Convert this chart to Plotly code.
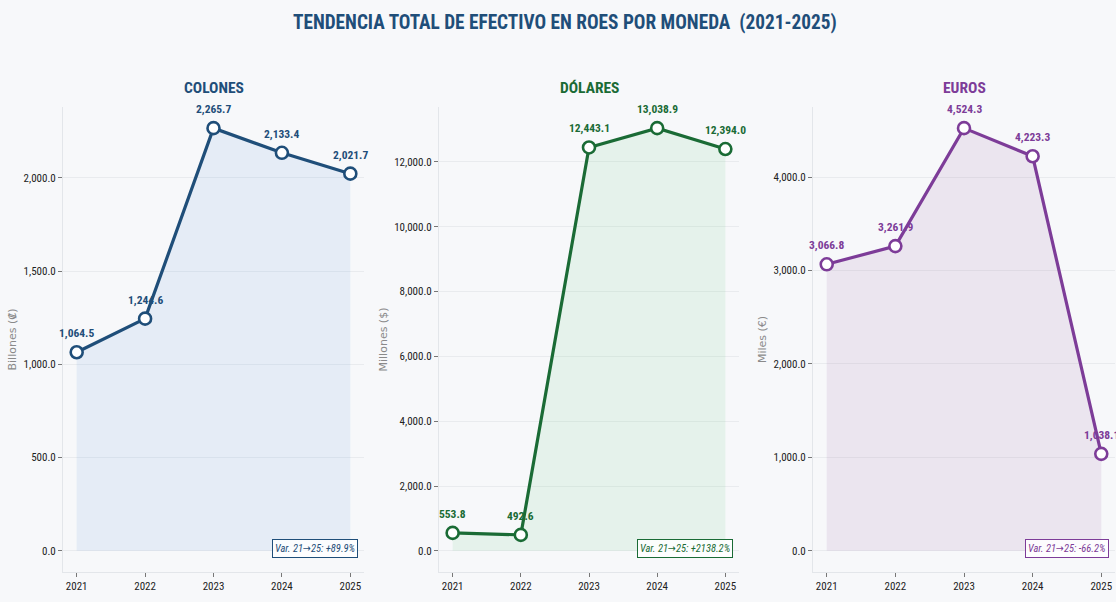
import plotly.graph_objects as go

years = [2021, 2022, 2023, 2024, 2025]
colones = [1064.5, 1244.6, 2265.7, 2133.4, 2021.7]
dolares = [553.8, 492.6, 12443.1, 13038.9, 12394.0]
euros = [3066.8, 3261.9, 4524.3, 4223.3, 1038.1]

panel_titles = ["COLONES", "DÓLARES", "EUROS"]
y_titles = ["Billones (₡)", "Millones ($)", "Miles (€)"]
var_labels = ["Var. 21→25: +89.9%", "Var. 21→25: +2138.2%", "Var. 21→25: -66.2%"]
y_dticks = [500, 2000, 1000]

series = [colones, dolares, euros]
colors = ["#1f4e79", "#1a6b35", "#7d3c98"]
fills = ["rgba(97,158,220,0.12)", "rgba(77,198,110,0.1)", "rgba(137,68,150,0.1)"]

W, H = 1116, 602
x_px = [(63, 364), (439, 739), (813, 1115)]
y_dom = [1 - 572 / H, 1 - 107 / H]

COND = "Roboto Condensed, DejaVu Sans Condensed, Liberation Sans Narrow, sans-serif"
BG = "#f7f8fa"

fig = go.Figure()
annotations = []
for i, (vals, col, fc) in enumerate(zip(series, colors, fills)):
    xa = "x" if i == 0 else f"x{i+1}"
    ya = "y" if i == 0 else f"y{i+1}"
    fig.add_trace(go.Scatter(
        x=years, y=vals, xaxis=xa, yaxis=ya, mode="lines+markers",
        line=dict(color=col, width=3.2),
        marker=dict(size=12, color="white", line=dict(color=col, width=2.6)),
        fill="tozeroy", fillcolor=fc, showlegend=False, cliponaxis=False,
    ))
    for xv, yv in zip(years, vals):
        annotations.append(dict(
            x=xv, y=yv, xref=xa, yref=ya, text=f"<b>{yv:,.1f}</b>",
            showarrow=False, xanchor="center", yshift=19,
            font=dict(family=COND, size=11.5, color=col),
        ))
    ymax = max(vals)
    dom = [x_px[i][0] / W, x_px[i][1] / W]
    axkey = "xaxis" if i == 0 else f"xaxis{i+1}"
    aykey = "yaxis" if i == 0 else f"yaxis{i+1}"
    fig.layout[axkey] = dict(
        domain=dom, anchor=ya, range=[2020.8, 2025.2], tickvals=years,
        ticktext=[str(y) for y in years], showgrid=False, zeroline=False,
        showline=True, linecolor="#e3e6ea", linewidth=1,
        ticks="outside", ticklen=4, tickcolor="#777",
        tickfont=dict(family=COND, size=11, color="#222"),
    )
    fig.layout[aykey] = dict(
        domain=y_dom, anchor=xa, range=[-0.05 * ymax, 1.05 * ymax],
        dtick=y_dticks[i], tick0=0, tickformat=",.1f",
        showgrid=True, gridcolor="#e9ebee", gridwidth=1, zeroline=False,
        showline=True, linecolor="#e3e6ea", linewidth=1,
        ticks="outside", ticklen=4, tickcolor="#777",
        tickfont=dict(family=COND, size=11, color="#222"),
        title=dict(text=y_titles[i], font=dict(family="DejaVu Sans", size=11, color="#8a8a8a"), standoff=4),
    )
    annotations.append(dict(
        x=(dom[0] + dom[1]) / 2, y=1 - 88 / H, xref="paper", yref="paper",
        text=f"<b>{panel_titles[i]}</b>", showarrow=False, xanchor="center", yanchor="middle",
        font=dict(family=COND, size=15.5, color=col),
    ))
    annotations.append(dict(
        x=0.98, y=0.05, xref=f"{xa} domain", yref=f"{ya} domain",
        text=f"<i>{var_labels[i]}</i>", showarrow=False, xanchor="right", yanchor="middle",
        font=dict(family=COND, size=10.5, color=col),
        bordercolor=col, borderwidth=1, borderpad=2, bgcolor="rgba(255,255,255,0.85)",
    ))

annotations.append(dict(
    x=565 / W, y=1 - 22 / H, xref="paper", yref="paper",
    text="<b>TENDENCIA TOTAL DE EFECTIVO EN ROES POR MONEDA  (2021-2025)</b>",
    showarrow=False, xanchor="center", yanchor="middle",
    font=dict(family=COND, size=19.3, color="#1f4e79"),
))

fig.update_layout(
    width=W, height=H, margin=dict(l=0, r=0, t=0, b=0),
    paper_bgcolor=BG, plot_bgcolor=BG, annotations=annotations,
)

fig.write_html("out.html", config={"displayModeBar": False},
               post_script="document.body.style.margin='0';")
